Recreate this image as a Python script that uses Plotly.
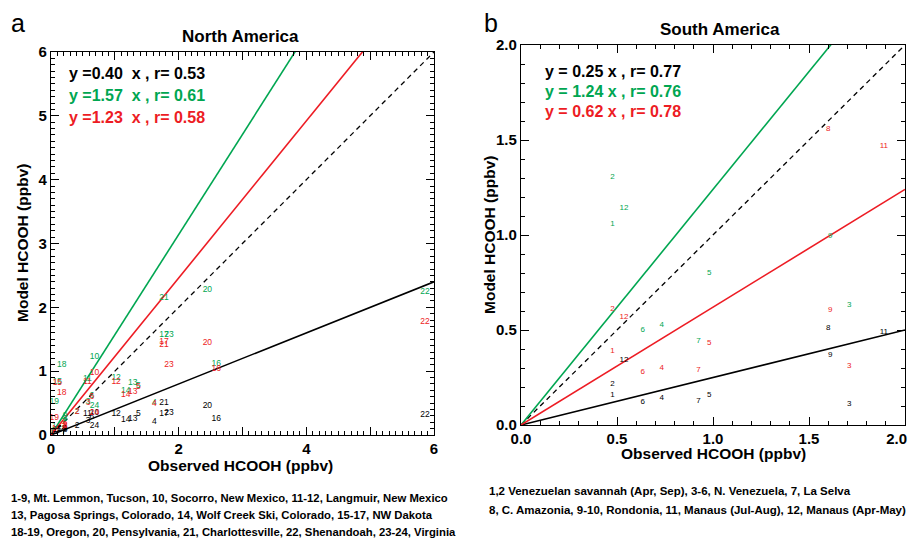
import plotly.graph_objects as go

# ---------------- data ----------------
# Panel a: North America
na_sites = [str(i) for i in range(1, 25)]
na_obs = [0.05, 0.41, 0.58, 1.62, 1.37, 0.64, 0.20, 0.22, 0.22, 0.68, 0.57, 1.02,
          1.28, 1.17, 0.10, 2.59, 1.77, 0.17, 0.05, 2.45, 1.77, 5.86, 1.85, 0.68]
na_black = [0.05, 0.15, 0.22, 0.21, 0.33, 0.28, 0.05, 0.08, 0.10, 0.35, 0.33, 0.33,
            0.26, 0.24, 0.08, 0.26, 0.33, 0.10, 0.05, 0.45, 0.50, 0.31, 0.35, 0.14]
na_green = [0.15, 0.36, 0.52, 0.50, 0.77, 0.62, 0.20, 0.25, 0.30, 1.23, 0.88, 0.89,
            0.82, 0.69, 0.84, 1.12, 1.57, 1.10, 0.52, 2.28, 2.15, 2.25, 1.57, 0.45]
na_red = [0.10, 0.36, 0.51, 0.49, 0.75, 0.60, 0.12, 0.15, 0.16, 0.98, 0.84, 0.84,
          0.68, 0.63, 0.82, 1.04, 1.46, 0.66, 0.27, 1.45, 1.41, 1.78, 1.10, 0.35]
na_slopes = [0.40, 1.57, 1.23]
na_r = [0.53, 0.61, 0.58]

# Panel b: South America
sa_sites = ["1", "2", "3", "4", "5", "6", "7", "8", "9", "11", "12"]
sa_obs = [0.476, 0.476, 1.71, 0.733, 0.98, 0.634, 0.925, 1.60, 1.61, 1.89, 0.536]
sa_black = [0.157, 0.216, 0.11, 0.14, 0.158, 0.12, 0.126, 0.51, 0.37, 0.49, 0.34]
sa_green = [1.056, 1.305, 0.63, 0.525, 0.80, 0.50, 0.44, None, 0.995, None, 1.14]
sa_red = [0.39, 0.613, 0.31, 0.30, 0.43, 0.28, 0.29, 1.56, 0.605, 1.47, 0.57]
sa_slopes = [0.25, 1.24, 0.62]
sa_r = [0.77, 0.76, 0.78]

na_xticks = [0, 1, 2, 3, 4, 5, 6]
na_xticktext = ["0", "", "2", "", "4", "", "6"]
na_yticks = [0, 1, 2, 3, 4, 5, 6]
sa_ticks = [0.0, 0.5, 1.0, 1.5, 2.0]
sa_ticktext = ["0.0", "0.5", "1.0", "1.5", "2.0"]

na_caption = ["1-9, Mt. Lemmon, Tucson, 10, Socorro, New Mexico, 11-12, Langmuir, New Mexico",
              "13, Pagosa Springs, Colorado, 14, Wolf Creek Ski, Colorado, 15-17, NW Dakota",
              "18-19, Oregon, 20, Pensylvania, 21, Charlottesville, 22, Shenandoah, 23-24, Virginia"]
sa_caption = ["1,2 Venezuelan savannah (Apr, Sep), 3-6, N. Venezuela, 7, La Selva",
              "8, C. Amazonia, 9-10, Rondonia, 11, Manaus (Jul-Aug), 12, Manaus (Apr-May)"]

COLORS = ["#000000", "#00a651", "#ed1c24"]
FONT = "Liberation Sans, Arial, sans-serif"
OFF = 8  # page body margin
W, H = 917 - OFF, 538 - OFF

fig = go.Figure()

def add_panel(ax, ay, obs, series, sites, slopes, xmax, tsize):
    fig.add_trace(go.Scatter(x=[0, xmax], y=[0, xmax], mode="lines", xaxis=ax, yaxis=ay,
                             line=dict(color="black", width=1.3, dash="5px,4px"), showlegend=False,
                             hoverinfo="skip"))
    for s, c in zip(slopes, COLORS):
        fig.add_trace(go.Scatter(x=[0, xmax], y=[0, s * xmax], mode="lines", xaxis=ax, yaxis=ay,
                                 line=dict(color=c, width=1.6), showlegend=False, hoverinfo="skip"))
    for ys, c in zip(series, COLORS):
        fig.add_trace(go.Scatter(x=obs, y=ys, mode="text", text=sites, xaxis=ax, yaxis=ay,
                                 textfont=dict(family=FONT, size=tsize, color=c),
                                 textposition="middle center", showlegend=False, cliponaxis=True))

add_panel("x", "y", na_obs, [na_black, na_green, na_red], na_sites, na_slopes, 6, 8.5)
add_panel("x2", "y2", sa_obs, [sa_black, sa_green, sa_red], sa_sites, sa_slopes, 2, 8)

def px(x):
    return (x - OFF) / W

def py(y):
    return 1 - (y - OFF) / H

axcommon = dict(showgrid=False, zeroline=False, showline=True, linecolor="black", linewidth=1.3,
                ticks="inside", ticklen=8, tickwidth=1.3, tickcolor="black", mirror="allticks",
                automargin=False, ticklabeloverflow="allow",
                tickfont=dict(family=FONT, size=15, color="black", weight="bold"),
                minor=dict(ticks="inside", ticklen=4, tickwidth=1, tickcolor="black", dtick=0.1))

# last x label of panel b sits at the page edge: pad it so it stays visible
sa_xticktext = sa_ticktext[:-1] + [sa_ticktext[-1] + "\u00a0" * 4]

fig.update_layout(
    width=W, height=H, margin=dict(l=0, r=0, t=0, b=0, pad=0, autoexpand=False),
    paper_bgcolor="white", plot_bgcolor="white", showlegend=False,
    xaxis=dict(domain=[px(51), px(434)], range=[0, 6], tickvals=na_xticks, ticktext=na_xticktext,
               anchor="y", **axcommon),
    yaxis=dict(domain=[py(435), py(52)], range=[0, 6], tickvals=na_yticks,
               ticktext=[str(v) for v in na_yticks], anchor="x", **axcommon),
    xaxis2=dict(domain=[px(521), px(905)], range=[0, 2], tickvals=sa_ticks, ticktext=sa_xticktext,
                anchor="y2", **axcommon),
    yaxis2=dict(domain=[py(425), py(45)], range=[0, 2], tickvals=sa_ticks, ticktext=sa_ticktext,
                anchor="x2", **axcommon),
)

ann = []
def text(x, y, s, size, color="black", bold=True, xanchor="center", angle=0, pad=1):
    ann.append(dict(x=px(x), y=py(y), xref="paper", yref="paper", text=s, showarrow=False,
                    xanchor=xanchor, yanchor="middle", textangle=angle, borderpad=pad,
                    font=dict(family=FONT, size=size, color=color,
                              weight="bold" if bold else "normal")))

text(10, 23, "a", 25, bold=False, xanchor="left", pad=0)
text(483, 23, "b", 25, bold=False, xanchor="left", pad=0)
text(240, 37, "North America", 17)
text(720, 30, "South America", 17)
text(241, 465, "Observed HCOOH (ppbv)", 15.5)
text(713, 453, "Observed HCOOH (ppbv)", 15.5)
text(22, 243, "Model HCOOH (ppbv)", 15.5, angle=-90)
text(489, 235, "Model HCOOH (ppbv)", 15.5, angle=-90)
na_y = [74, 96, 117]
for s, r, c, yy in zip(na_slopes, na_r, COLORS, na_y):
    text(67, yy, f"y ={s:.2f}  x , r= {r:.2f}", 16, color=c, xanchor="left")
sa_y = [72, 92, 111]
for s, r, c, yy in zip(sa_slopes, sa_r, COLORS, sa_y):
    text(543, yy, f"y = {s:.2f} x , r= {r:.2f}", 16, color=c, xanchor="left")
na_cap_y = [498, 515, 532]
for line, yy in zip(na_caption, na_cap_y):
    text(10, yy, line, 11.3, xanchor="left", pad=0)
sa_cap_y = [491, 510]
for line, yy in zip(sa_caption, sa_cap_y):
    text(488, yy, line, 11.5, xanchor="left", pad=0)

fig.update_layout(annotations=ann)
fig.write_html("out.html")
